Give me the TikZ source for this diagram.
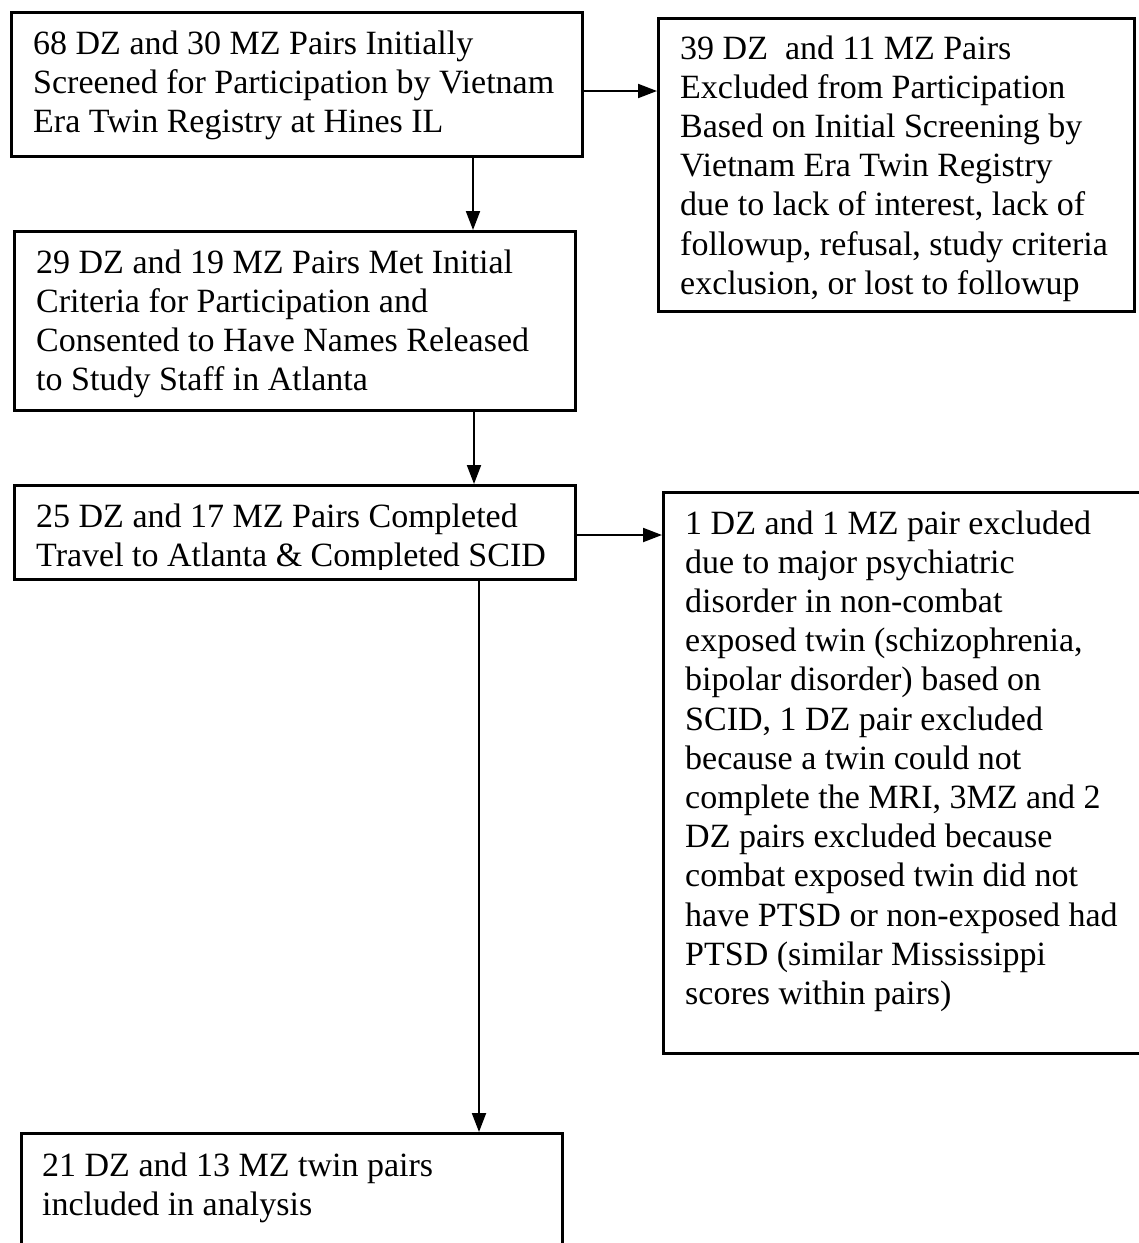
\documentclass[tikz,border=0pt]{standalone}
\usepackage{fontspec}
\setmainfont{Liberation Serif}
\usetikzlibrary{arrows.meta}
\tikzset{flowbox/.style={draw, line width=2.5pt, inner sep=0pt, anchor=north west},
flowtext/.style={anchor=base west, inner sep=0pt, xshift=23pt, yshift=-43pt, font=\fontsize{34}{39.2}\selectfont},
flowarrow/.style={line width=2pt, -{Triangle[length=19pt,width=14pt]}}}
\newcommand{\flowlines}[1]{\begin{tabular}[t]{@{}l@{}}#1\end{tabular}}

\begin{document}
\begin{tikzpicture}[x=1pt,y=-1pt]
\clip (0,0) rectangle (1139,1243);
\node[flowbox, minimum width=571pt, minimum height=144pt] (screened) at (10,11) {};
\node[flowbox, minimum width=476pt, minimum height=293pt] (excluded) at (657,17) {};
\node[flowbox, minimum width=561pt, minimum height=179pt] (consented) at (13,230) {};
\node[flowbox, minimum width=561pt, minimum height=94pt] (completed) at (13,484) {};
\node[flowbox, minimum width=520pt, minimum height=561pt] (dropped) at (662,491) {};
\node[flowbox, minimum width=541pt, minimum height=200pt] (analysed) at (20,1132) {};
\node[flowtext] (screenedtext) at (screened.north west) {\flowlines{68 DZ and 30 MZ Pairs Initially\\Screened for Participation by Vietnam\\Era Twin Registry at Hines IL}};
\node[flowtext, yshift=1pt] (excludedtext) at (excluded.north west) {\flowlines{39 DZ \ and 11 MZ Pairs\\Excluded from Participation\\Based on Initial Screening by\\Vietnam Era Twin Registry\\due to lack of interest, lack of\\followup, refusal, study criteria\\exclusion, or lost to followup}};
\node[flowtext] (consentedtext) at (consented.north west) {\flowlines{29 DZ and 19 MZ Pairs Met Initial\\Criteria for Participation and\\Consented to Have Names Released\\to Study Staff in Atlanta}};
\begin{scope}
\clip (14,486) rectangle (573,569);
\node[flowtext] (completedtext) at (completed.north west) {\flowlines{25 DZ and 17 MZ Pairs Completed\\Travel to Atlanta \& Completed SCID}};
\end{scope}
\node[flowtext] (droppedtext) at (dropped.north west) {\flowlines{1 DZ and 1 MZ pair excluded\\due to major psychiatric\\disorder in non-combat\\exposed twin (schizophrenia,\\bipolar disorder) based on\\SCID, 1 DZ pair excluded\\because a twin could not\\complete the MRI, 3MZ and 2\\DZ pairs excluded because\\combat exposed twin did not\\have PTSD or non-exposed had\\PTSD (similar Mississippi\\scores within pairs)}};
\node[flowtext, xshift=-1pt, yshift=-1pt] (analysedtext) at (analysed.north west) {\flowlines{21 DZ and 13 MZ twin pairs\\included in analysis}};
\coordinate (row1) at (0,91);
\coordinate (row2) at (0,535);
\draw[flowarrow] (screened.east |- row1) -- (excluded.west |- row1);
\draw[flowarrow] (screened.south -| 473,0) -- (consented.north -| 473,0);
\draw[flowarrow] (consented.south -| 474,0) -- (completed.north -| 474,0);
\draw[flowarrow] (completed.east |- row2) -- (dropped.west |- row2);
\draw[flowarrow] (completed.south -| 479,0) -- (analysed.north -| 479,0);
\end{tikzpicture}
\end{document}
